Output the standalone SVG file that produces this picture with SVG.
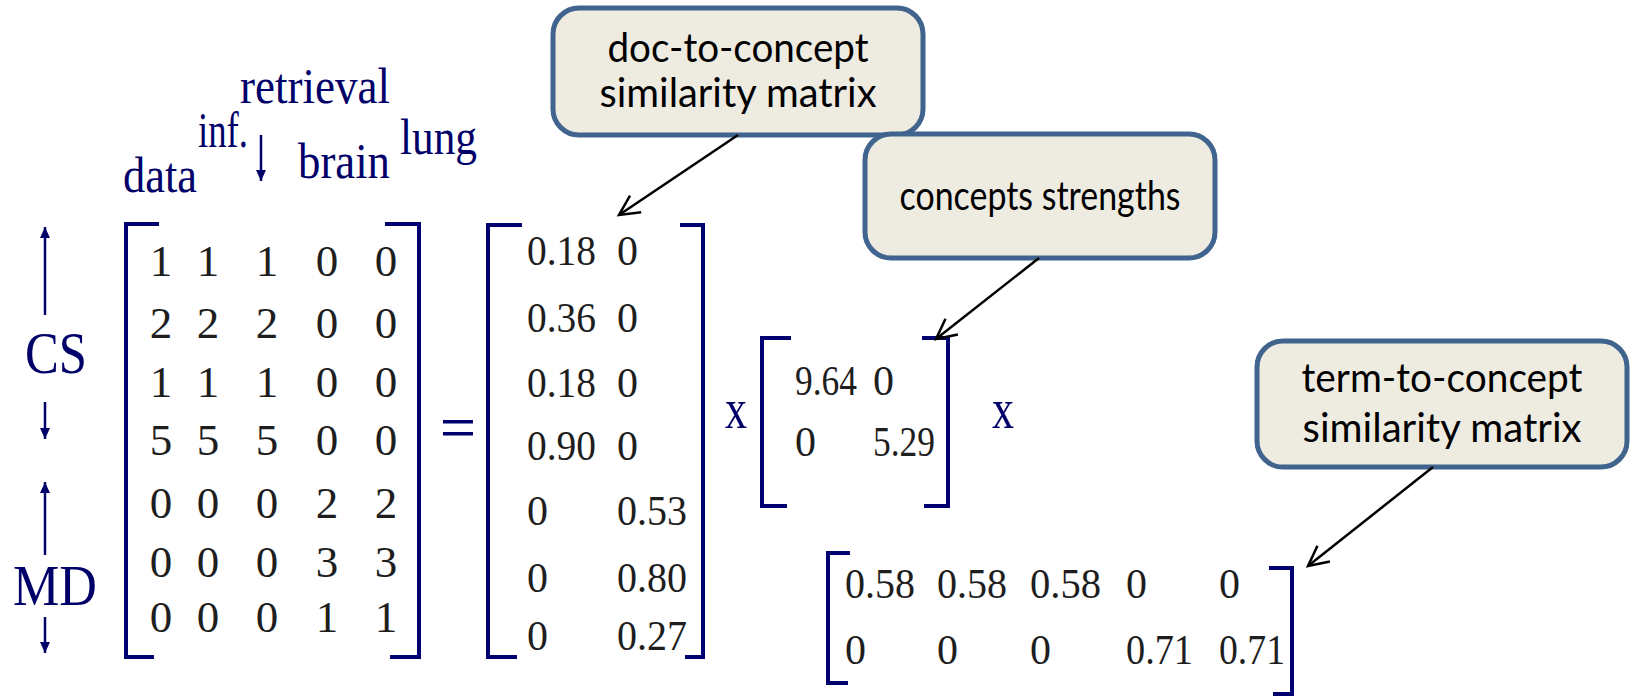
<svg xmlns="http://www.w3.org/2000/svg" width="1633" height="697" viewBox="0 0 1633 697">
<style>
.lbl{font-family:"Liberation Serif","Times New Roman",serif;fill:#000068;}
.num{font-family:"Liberation Serif","Times New Roman",serif;fill:#1e1e1e;}
.n1{font-size:45px;text-anchor:middle;}
.n2{font-size:42px;}
.br{fill:none;stroke:#000070;stroke-width:4;}
.ar{fill:none;stroke:#000068;stroke-width:2.5;}
.box{fill:#eeebe1;stroke:#41648f;stroke-width:5;}
.bt{font-family:Lato,"Open Sans",sans-serif;font-size:41px;fill:#000;text-anchor:middle;}
.con{fill:none;stroke:#000;stroke-width:2.5;}
</style>
<defs>
<marker id="open" markerUnits="userSpaceOnUse" markerWidth="26" markerHeight="26" viewBox="0 0 26 26" refX="23" refY="13" orient="auto">
<path d="M3,3 L23,13 L3,23" fill="none" stroke="#000" stroke-width="2.5"/>
</marker>
<marker id="tri" markerUnits="userSpaceOnUse" markerWidth="12" markerHeight="12" viewBox="0 0 12 12" refX="11" refY="6" orient="auto">
<path d="M0,1 L11,6 L0,11 Z" fill="#000068"/>
</marker>
</defs>

<g id="term-labels">
<text class="lbl" x="240" y="103" font-size="50" textLength="150" lengthAdjust="spacingAndGlyphs">retrieval</text>
<text class="lbl" x="198" y="147" font-size="50" textLength="50" lengthAdjust="spacingAndGlyphs">inf.</text>
<line class="ar" x1="261" y1="135" x2="261" y2="181" marker-end="url(#tri)"/>
<text class="lbl" x="298" y="178" font-size="50" textLength="92" lengthAdjust="spacingAndGlyphs">brain</text>
<text class="lbl" x="400" y="154" font-size="50" textLength="77" lengthAdjust="spacingAndGlyphs">lung</text>
<text class="lbl" x="123" y="192" font-size="50" textLength="74" lengthAdjust="spacingAndGlyphs">data</text>
</g>

<g id="doc-labels">
<line class="ar" x1="45" y1="315" x2="45" y2="227" marker-end="url(#tri)"/>
<text class="lbl" x="25" y="373" font-size="60" textLength="62" lengthAdjust="spacingAndGlyphs">CS</text>
<line class="ar" x1="45" y1="402" x2="45" y2="439" marker-end="url(#tri)"/>
<line class="ar" x1="45" y1="555" x2="45" y2="482" marker-end="url(#tri)"/>
<text class="lbl" x="13" y="605" font-size="58" textLength="84" lengthAdjust="spacingAndGlyphs">MD</text>
<line class="ar" x1="45" y1="617" x2="45" y2="653" marker-end="url(#tri)"/>
</g>

<g id="matrix-A">
<path class="br" d="M159,224 H126 V657 H154"/>
<path class="br" d="M385,224 H419 V657 H390"/>
<g class="num n1">
<text x="161" y="276">1</text><text x="208" y="276">1</text><text x="267" y="276">1</text><text x="327" y="276">0</text><text x="386" y="276">0</text>
<text x="161" y="338">2</text><text x="208" y="338">2</text><text x="267" y="338">2</text><text x="327" y="338">0</text><text x="386" y="338">0</text>
<text x="161" y="397">1</text><text x="208" y="397">1</text><text x="267" y="397">1</text><text x="327" y="397">0</text><text x="386" y="397">0</text>
<text x="161" y="455">5</text><text x="208" y="455">5</text><text x="267" y="455">5</text><text x="327" y="455">0</text><text x="386" y="455">0</text>
<text x="161" y="518">0</text><text x="208" y="518">0</text><text x="267" y="518">0</text><text x="327" y="518">2</text><text x="386" y="518">2</text>
<text x="161" y="577">0</text><text x="208" y="577">0</text><text x="267" y="577">0</text><text x="327" y="577">3</text><text x="386" y="577">3</text>
<text x="161" y="632">0</text><text x="208" y="632">0</text><text x="267" y="632">0</text><text x="327" y="632">1</text><text x="386" y="632">1</text>
</g>
</g>

<g id="equals">
<rect x="443" y="420" width="30" height="3.5" fill="#000070"/>
<rect x="443" y="432" width="30" height="3.5" fill="#000070"/>
</g>

<g id="matrix-U">
<path class="br" d="M522,225 H488 V657 H517"/>
<path class="br" d="M680,225 H703 V657 H685"/>
<g class="num n2">
<text x="527" y="265" textLength="69" lengthAdjust="spacingAndGlyphs">0.18</text><text x="617" y="265">0</text>
<text x="527" y="332" textLength="69" lengthAdjust="spacingAndGlyphs">0.36</text><text x="617" y="332">0</text>
<text x="527" y="397" textLength="69" lengthAdjust="spacingAndGlyphs">0.18</text><text x="617" y="397">0</text>
<text x="527" y="460" textLength="69" lengthAdjust="spacingAndGlyphs">0.90</text><text x="617" y="460">0</text>
<text x="527" y="525">0</text><text x="617" y="525" textLength="70" lengthAdjust="spacingAndGlyphs">0.53</text>
<text x="527" y="592">0</text><text x="617" y="592" textLength="70" lengthAdjust="spacingAndGlyphs">0.80</text>
<text x="527" y="650">0</text><text x="617" y="650" textLength="70" lengthAdjust="spacingAndGlyphs">0.27</text>
</g>
</g>

<g id="times-1">
<text class="lbl" x="725" y="428" font-size="56" textLength="22" lengthAdjust="spacingAndGlyphs">x</text>
</g>

<g id="matrix-S">
<path class="br" d="M791,338 H762 V506 H787"/>
<path class="br" d="M922,338 H948 V506 H924"/>
<g class="num n2">
<text x="795" y="395" textLength="62" lengthAdjust="spacingAndGlyphs">9.64</text><text x="873" y="395">0</text>
<text x="795" y="456">0</text><text x="873" y="456" textLength="62" lengthAdjust="spacingAndGlyphs">5.29</text>
</g>
</g>

<g id="times-2">
<text class="lbl" x="992" y="428" font-size="56" textLength="22" lengthAdjust="spacingAndGlyphs">x</text>
</g>

<g id="matrix-V">
<path class="br" d="M850,553 H828 V683 H848"/>
<path class="br" d="M1269,568 H1292 V694 H1273"/>
<g class="num n2">
<text x="845" y="598" textLength="70" lengthAdjust="spacingAndGlyphs">0.58</text>
<text x="937" y="598" textLength="70" lengthAdjust="spacingAndGlyphs">0.58</text>
<text x="1030" y="598" textLength="71" lengthAdjust="spacingAndGlyphs">0.58</text>
<text x="1126" y="598">0</text>
<text x="1219" y="598">0</text>
<text x="845" y="664">0</text>
<text x="937" y="664">0</text>
<text x="1030" y="664">0</text>
<text x="1126" y="664" textLength="67" lengthAdjust="spacingAndGlyphs">0.71</text>
<text x="1219" y="664" textLength="66" lengthAdjust="spacingAndGlyphs">0.71</text>
</g>
</g>

<g id="callout-doc">
<rect class="box" x="553" y="8" width="370" height="127" rx="26"/>
<text class="bt" x="738" y="62" textLength="261" lengthAdjust="spacingAndGlyphs">doc-to-concept</text>
<text class="bt" x="738" y="107" textLength="277" lengthAdjust="spacingAndGlyphs">similarity matrix</text>
</g>

<g id="callout-strength">
<rect class="box" x="865" y="134" width="350" height="124" rx="26"/>
<text class="bt" x="1040" y="210" textLength="281" lengthAdjust="spacingAndGlyphs">concepts strengths</text>
</g>

<g id="callout-term">
<rect class="box" x="1257" y="341" width="370" height="126" rx="26"/>
<text class="bt" x="1442" y="392" textLength="281" lengthAdjust="spacingAndGlyphs">term-to-concept</text>
<text class="bt" x="1442" y="442" textLength="279" lengthAdjust="spacingAndGlyphs">similarity matrix</text>
</g>

<g id="connectors">
<line class="con" x1="738" y1="135" x2="619" y2="215" marker-end="url(#open)"/>
<line class="con" x1="1039" y1="258" x2="936" y2="339" marker-end="url(#open)"/>
<line class="con" x1="1433" y1="467" x2="1308" y2="566" marker-end="url(#open)"/>
</g>
</svg>
